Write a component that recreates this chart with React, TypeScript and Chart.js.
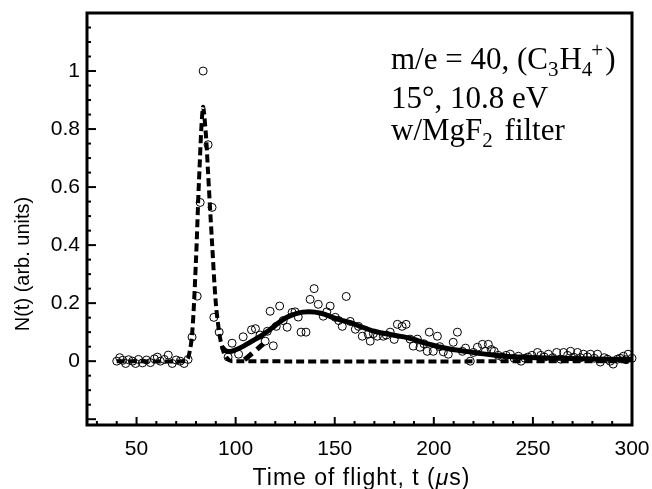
import React, { useEffect, useRef } from "react";
import { Chart, registerables } from "chart.js";

Chart.register(...registerables);

// ---- data ----
const scatterT = [
  40, 41.5, 43, 44.5, 46, 48, 49.5, 51, 53, 55, 57, 59, 60.5, 62, 64, 66, 68, 70, 72, 74, 76,
  78, 80.6, 82.1, 83.6, 86.1, 88.1, 89, 91.7, 96.2, 98.2, 101.5, 103.8, 108, 110, 112.3, 114.9,
  116, 117.4, 119, 120.5, 122.2, 124, 126, 128.5, 130, 131.6, 133, 135.5, 137.6, 139.6, 141.7,
  144.2, 146, 147.7, 150.3, 152, 153.8, 155.8, 157.8, 160.4, 162, 163.9, 166.9, 167.9, 169.5,
  171.5, 174.5, 176, 178, 180, 181.6, 184, 186, 188, 189.6, 191.7, 193, 195, 196.7, 197.7,
  199.7, 201.8, 203, 204.8, 207.3, 209.8, 211.9, 214.4, 216, 218.4, 220, 222, 224.5, 226,
  227.5, 229, 230.5, 232.5, 234.6, 236.5, 238.6, 240.5, 242.7, 244, 246, 247.5, 249.5, 252.3,
  254, 255.8, 257.8, 260, 262, 264, 265.5, 267.5, 269, 270.5, 272.5, 274, 275.5, 277.5, 279,
  281, 282.6, 284, 286, 287.6, 289, 290.5, 292.7, 294, 295.7, 297, 298, 300,
];
const scatterN = [
  0.0, 0.012, 0.003, -0.008, 0.005, 0.0, -0.008, 0.006, -0.006, 0.004, -0.005, 0.008, 0.014, 0.0, 0.006, 0.021, -0.008, 0.004, 0.0, -0.008, 0.006,
  0.083, 0.224, 0.547, 1.0, 0.746, 0.53, 0.151, 0.1, 0.014, 0.062, 0.024, 0.084, 0.108, 0.112, 0.09, 0.069,
  0.103, 0.172, 0.053, 0.12, 0.19, 0.14, 0.117, 0.168, 0.17, 0.152, 0.1, 0.1, 0.213, 0.25, 0.196,
  0.155, 0.17, 0.19, 0.151, 0.14, 0.12, 0.223, 0.137, 0.11, 0.12, 0.086, 0.093, 0.069, 0.095,
  0.086, 0.086, 0.09, 0.1, 0.075, 0.127, 0.12, 0.127, 0.076, 0.052, 0.076, 0.048, 0.06, 0.034, 0.1,
  0.034, 0.086, 0.05, 0.032, 0.024, 0.065, 0.1, 0.034, 0.045, 0.0, 0.03, 0.048, 0.058, 0.034,
  0.058, 0.04, 0.034, 0.02, 0.014, 0.02, 0.024, 0.01, 0.017, 0.0, 0.01, 0.014, 0.02, 0.03,
  0.02, 0.014, 0.024, 0.012, 0.03, 0.007, 0.03, 0.02, 0.034, 0.014, 0.03, 0.012, 0.024, 0.015, 0.024,
  0.01, 0.024, -0.003, 0.012, 0.007, 0.0, -0.01, 0.007, 0.01, 0.017, 0.005, 0.024, 0.01,
];

// fast component (dashed)
const fastT = [40, 74, 76, 78, 80, 81.5, 83.5, 85, 86, 88, 90, 92, 94, 96, 98, 300];
const fastN = [0, 0, 0.01, 0.09, 0.35, 0.62, 0.875, 0.78, 0.66, 0.42, 0.2, 0.086, 0.03, 0.008, 0, 0];

// slow / total fit (thick)
const slowT = [
  93, 95, 98, 101, 104, 107, 110, 113, 116, 119, 122, 125, 128, 131, 134, 137, 140, 143, 146,
  150, 154, 158, 162, 166, 170, 174, 178, 182, 186, 190, 194, 198, 203, 208, 213, 218, 224, 230,
  236, 244, 252, 262, 275, 288, 300,
];
const slowN = [
  0.05, 0.036, 0.034, 0.042, 0.052, 0.064, 0.076, 0.088, 0.102, 0.118, 0.134, 0.148, 0.158, 0.165,
  0.169, 0.17, 0.169, 0.165, 0.159, 0.148, 0.14, 0.133, 0.122, 0.112, 0.103, 0.097, 0.092, 0.087,
  0.082, 0.075, 0.066, 0.058, 0.049, 0.042, 0.037, 0.032, 0.026, 0.021, 0.017, 0.014, 0.012, 0.01,
  0.008, 0.007, 0.006,
];

// short rising component segment
const riseT = [104.5, 108, 111.5, 114];
const riseN = [0.005, 0.025, 0.045, 0.06];

const xMajorTicks = [50, 100, 150, 200, 250, 300];
const yMajorTicks = [0, 0.2, 0.4, 0.6, 0.8, 1];
const X_MIN = 25;
const X_MAX = 300;
const Y_MIN = -0.22;
const Y_MAX = 1.2;

const zip = (xs: number[], ys: number[]) => xs.map((x, i) => ({ x, y: ys[i] }));

const SANS = '"Liberation Sans", Arial, sans-serif';

const framePlugin = {
  id: "frameTicks",
  afterDraw(chart: any) {
    const { ctx, chartArea, scales } = chart;
    const xs = scales.x;
    const ys = scales.y;
    ctx.save();
    ctx.strokeStyle = "#000";
    ctx.lineWidth = 2;
    // x ticks inward
    for (let v = 30; v < X_MAX; v += 10) {
      const px = xs.getPixelForValue(v);
      const len = v % 50 === 0 ? 8 : 4;
      ctx.beginPath();
      ctx.moveTo(px, chartArea.bottom);
      ctx.lineTo(px, chartArea.bottom - len);
      ctx.stroke();
    }
    // y ticks inward
    for (let k = -4; k <= 23; k++) {
      const v = k * 0.05;
      if (v <= Y_MIN || v >= Y_MAX) continue;
      const py = ys.getPixelForValue(v);
      const len = k % 4 === 0 ? 9 : 4;
      ctx.beginPath();
      ctx.moveTo(chartArea.left, py);
      ctx.lineTo(chartArea.left + len, py);
      ctx.stroke();
    }
    // frame
    ctx.lineWidth = 3;
    ctx.strokeRect(chartArea.left, chartArea.top, chartArea.right - chartArea.left, chartArea.bottom - chartArea.top);

    ctx.fillStyle = "#000";
    ctx.textBaseline = "alphabetic";
    ctx.textAlign = "left";

    // axis titles
    const c: any = ctx;
    c.letterSpacing = "1px";
    const runW = (parts: [string, string][]) => {
      let w = 0;
      for (const [t, f] of parts) {
        ctx.font = f;
        w += ctx.measureText(t).width;
      }
      return w;
    };
    const xTitle: [string, string][] = [
      ["Time of flight, t (", `23px ${SANS}`],
      ["μ", `italic 23px ${SANS}`],
      ["s)", `23px ${SANS}`],
    ];
    {
      const w = runW(xTitle);
      let x = (chartArea.left + chartArea.right) / 2 + 2 - w / 2;
      for (const [t, f] of xTitle) {
        ctx.font = f;
        ctx.fillText(t, x, 485);
        x += ctx.measureText(t).width;
      }
    }
    c.letterSpacing = "0px";
    {
      ctx.save();
      ctx.translate(29, 264);
      ctx.rotate(-Math.PI / 2);
      ctx.font = `20px ${SANS}`;
      ctx.textAlign = "center";
      ctx.fillText("N(t) (arb. units)", 0, 0);
      ctx.restore();
    }

    // annotation text
    const big = '31px "Liberation Serif"';
    const small = '21px "Liberation Serif"';
    const run = (parts: [string, string, number, number][], x0: number, y0: number) => {
      let x = x0;
      for (const [txt, kind, dy, gap] of parts) {
        ctx.font = kind === "b" ? big : small;
        ctx.fillText(txt, x, y0 + dy);
        x += ctx.measureText(txt).width + gap;
      }
    };
    run(
      [
        ["m/e = 40, (C", "b", 0, 0],
        ["3", "s", 7, 1],
        ["H", "b", 0, 0],
        ["4", "s", 7, -1],
        ["+", "s", -12, 2],
        [")", "b", 0, 0],
      ],
      391,
      69
    );
    run([["15°, 10.8 eV", "b", 0, 0]], 391, 108);
    run(
      [
        ["w/MgF", "b", 0, 0],
        ["2", "s", 7, 4],
        [" filter", "b", 0, 0],
      ],
      391,
      140
    );
    ctx.restore();
  },
};

export default function App() {
  const ref = useRef<HTMLCanvasElement>(null);
  useEffect(() => {
    if (!ref.current) return;
    const chart = new Chart(ref.current, {
      type: "scatter",
      data: {
        datasets: [
          {
            label: "fast",
            data: zip(fastT, fastN),
            showLine: true,
            borderColor: "#000",
            borderWidth: 4,
            borderDash: [8, 4],
            pointRadius: 0,
            tension: 0.3,
            order: 1,
          },
          {
            label: "slow",
            data: zip(slowT, slowN),
            showLine: true,
            borderColor: "#000",
            borderWidth: 5,
            pointRadius: 0,
            tension: 0.3,
            order: 2,
          },
          {
            label: "rise",
            data: zip(riseT, riseN),
            showLine: true,
            borderColor: "#000",
            borderWidth: 5,
            borderDash: [10, 6],
            pointRadius: 0,
            tension: 0.3,
            order: 3,
          },
          {
            label: "data",
            data: zip(scatterT, scatterN),
            showLine: false,
            pointRadius: 4,
            pointStyle: "circle",
            pointBorderColor: "#000",
            pointBackgroundColor: "rgba(0,0,0,0)",
            pointBorderWidth: 1,
            clip: false as any,
            order: 4,
          },
        ],
      },
      options: {
        animation: false,
        responsive: true,
        maintainAspectRatio: false,
        layout: { padding: { left: 0, right: 20, top: 13, bottom: 0 } },
        plugins: { legend: { display: false }, tooltip: { enabled: false } },
        scales: {
          x: {
            type: "linear",
            min: X_MIN,
            max: X_MAX,
            border: { display: false },
            grid: { display: false, drawTicks: false },
            afterBuildTicks: (s: any) => {
              s.ticks = xMajorTicks.map((v) => ({ value: v }));
            },
            afterFit: (s: any) => {
              s.height = 64;
              s.paddingLeft = 0;
              s.paddingRight = 0;
            },
            ticks: {
              color: "#000",
              padding: 12,
              maxRotation: 0,
              font: { family: SANS, size: 21 },
              callback: (v: any) => String(v),
            },
          },
          y: {
            type: "linear",
            min: Y_MIN,
            max: Y_MAX,
            border: { display: false },
            grid: { display: false, drawTicks: false },
            afterBuildTicks: (s: any) => {
              s.ticks = yMajorTicks.map((v) => ({ value: v }));
            },
            afterFit: (s: any) => {
              s.width = 87;
              s.paddingTop = 0;
              s.paddingBottom = 0;
            },
            ticks: {
              color: "#000",
              padding: 7,
              font: { family: SANS, size: 21 },
              callback: (v: any) => String(Math.round(v * 10) / 10),
            },
          },
        },
      },
      plugins: [framePlugin],
    });
    return () => chart.destroy();
  }, []);
  return (
    <div style={{ position: "fixed", left: 0, top: 0, width: 652, height: 489, background: "#fff" }}>
      <canvas ref={ref} />
    </div>
  );
}
